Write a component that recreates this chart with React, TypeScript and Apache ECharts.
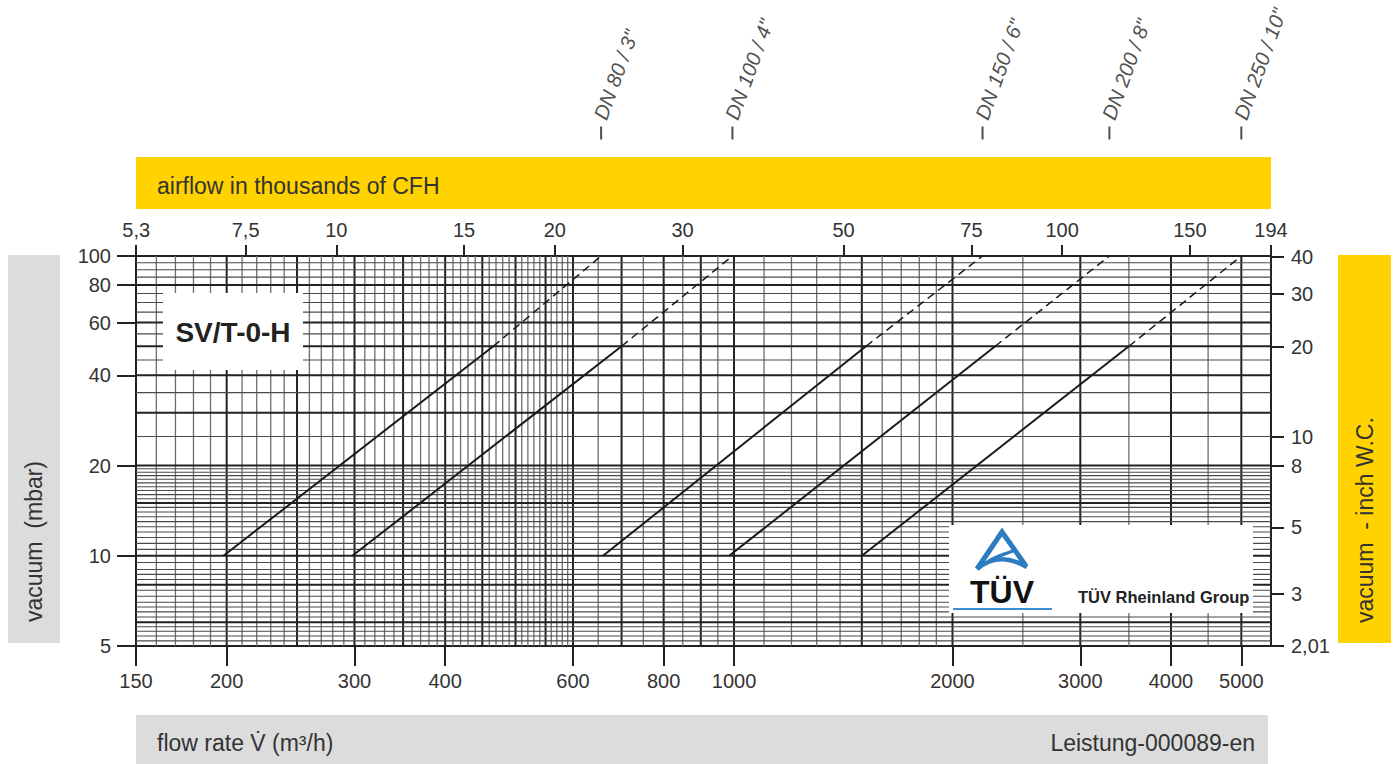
import React, { useEffect, useRef } from 'react';
import * as echarts from 'echarts';

const FONT = '"Liberation Sans", Arial, Helvetica, sans-serif';

// DN curves: flow rate (m³/h) at the given vacuum levels (mbar)
const dnLabels = ['DN 80 / 3"', 'DN 100 / 4"', 'DN 150 / 6"', 'DN 200 / 8"', 'DN 250 / 10"'];
const vacuumLevels = [10, 50, 100];
const flowAt10 = [198, 298, 660, 985, 1500];
const flowAt50 = [466, 700, 1520, 2290, 3500];
const flowAt100 = [656, 995, 2200, 3290, 5000];

// tick labels
const flowTicks = [150, 200, 300, 400, 600, 800, 1000, 2000, 3000, 4000, 5000];
const cfhTicks = [5.3, 7.5, 10, 15, 20, 30, 50, 75, 100, 150, 194];
const mbarTicks = [5, 10, 20, 40, 60, 80, 100];
const inchTicks = [2.01, 3, 5, 8, 10, 20, 30, 40];

// grid lines of the log paper
const vGridMajor = [200, 250, 300, 350, 400, 450, 500, 550, 600, 700, 800, 900, 1000, 1500, 2000, 3000, 4000, 5000];
const vGridMinor = [160, 170, 180, 190, 210, 220, 230, 240, 260, 270, 280, 290, 310, 320, 330, 340, 360, 370, 380, 390,
  410, 420, 430, 440, 460, 470, 480, 490, 510, 520, 530, 540, 560, 570, 580, 590, 650, 750, 850, 950,
  1100, 1200, 1300, 1400, 1600, 1700, 1800, 1900, 2500, 3500, 4500];
const hGridMajor = [80, 60, 50, 40, 30, 20, 15, 10, 8, 6];
const hGridMinor = [95, 90, 85, 75, 70, 65, 55, 45, 35, 25, 19.5, 19, 18.5, 18, 17.5, 17, 16.5, 16, 15.5,
  14.5, 14, 13.5, 13, 12.5, 12, 11.5, 11, 10.5, 9.5, 9, 8.67, 8.33, 7.67, 7.33, 7, 6.75, 6.5, 6.25,
  5.8, 5.6, 5.4, 5.2];

const X_MIN = 150;
const X_MAX = 5493.5;
const Y_MIN = 5;
const Y_MAX = 100;

const fmt = (v: number) => String(Number(Number(v).toPrecision(6))).replace('.', ',');

const lblStyle = { color: '#333', fontSize: 20, fontFamily: FONT };
const axLine = { show: true, lineStyle: { color: '#222', width: 2 } };

function vLines(values: number[], color: string, width: number) {
  return {
    type: 'custom',
    xAxisIndex: 0,
    yAxisIndex: 0,
    silent: true,
    z: 1,
    data: values.map((v) => [v, Y_MIN]),
    renderItem: (_p: any, api: any) => {
      const a = api.coord([api.value(0), Y_MIN]);
      const b = api.coord([api.value(0), Y_MAX]);
      return { type: 'line', shape: { x1: a[0], y1: a[1], x2: b[0], y2: b[1] }, style: { stroke: color, lineWidth: width } };
    },
  };
}

function hLines(values: number[], color: string, width: number) {
  return {
    type: 'custom',
    xAxisIndex: 0,
    yAxisIndex: 0,
    silent: true,
    z: 1,
    data: values.map((v) => [X_MIN, v]),
    renderItem: (_p: any, api: any) => {
      const a = api.coord([X_MIN, api.value(1)]);
      const b = api.coord([X_MAX, api.value(1)]);
      return { type: 'line', shape: { x1: a[0], y1: a[1], x2: b[0], y2: b[1] }, style: { stroke: color, lineWidth: width } };
    },
  };
}

export default function App() {
  const ref = useRef<HTMLDivElement>(null);

  useEffect(() => {
    if (!ref.current) return;
    const chart = echarts.init(ref.current, undefined, { renderer: 'svg' });

    const curveSeries: any[] = [];
    dnLabels.forEach((name, i) => {
      curveSeries.push({
        type: 'line', name, xAxisIndex: 0, yAxisIndex: 0, symbol: 'none', z: 3, silent: true,
        data: [[flowAt10[i], vacuumLevels[0]], [flowAt50[i], vacuumLevels[1]]],
        lineStyle: { color: '#1a1a1a', width: 2 },
      });
      curveSeries.push({
        type: 'line', name: name + ' dashed', xAxisIndex: 0, yAxisIndex: 0, symbol: 'none', z: 3, silent: true,
        data: [[flowAt50[i], vacuumLevels[1]], [flowAt100[i], vacuumLevels[2]]],
        lineStyle: { color: '#1a1a1a', width: 1.5, type: [8, 5] },
      });
    });

    const blue = '#2b7cc1';

    chart.setOption({
      animation: false,
      backgroundColor: '#fff',
      grid: [
        { left: 136, top: 256, width: 1135, height: 390 },
        { left: 136, top: 0, width: 1135, height: 150 },
      ],
      xAxis: [
        {
          type: 'log', logBase: 10, gridIndex: 0, min: X_MIN, max: X_MAX, position: 'bottom',
          axisLine: axLine,
          axisTick: { show: true, customValues: flowTicks, length: 20, lineStyle: { color: '#222', width: 2 } },
          axisLabel: { show: true, customValues: flowTicks, margin: 25, formatter: fmt, ...lblStyle },
          splitLine: { show: false }, minorTick: { show: false }, minorSplitLine: { show: false },
        },
        {
          type: 'log', logBase: 10, gridIndex: 0, min: 5.297, max: 194.001, position: 'top',
          axisLine: axLine,
          axisTick: { show: true, customValues: cfhTicks, length: 11, lineStyle: { color: '#222', width: 2 } },
          axisLabel: { show: true, customValues: cfhTicks, margin: 16, formatter: fmt, ...lblStyle },
          splitLine: { show: false }, minorTick: { show: false }, minorSplitLine: { show: false },
        },
        { type: 'log', logBase: 10, gridIndex: 1, min: X_MIN, max: X_MAX, show: false },
      ],
      yAxis: [
        {
          type: 'log', logBase: 10, gridIndex: 0, min: Y_MIN, max: Y_MAX, position: 'left',
          axisLine: axLine,
          axisTick: { show: true, customValues: mbarTicks, length: 19, lineStyle: { color: '#222', width: 2 } },
          axisLabel: { show: true, customValues: mbarTicks, margin: 25, formatter: fmt, ...lblStyle },
          splitLine: { show: false }, minorTick: { show: false }, minorSplitLine: { show: false },
        },
        {
          type: 'log', logBase: 10, gridIndex: 0, min: 2.0095, max: 40.19, position: 'right',
          axisLine: axLine,
          axisTick: { show: true, customValues: inchTicks, length: 13, lineStyle: { color: '#222', width: 2 } },
          axisLabel: { show: true, customValues: inchTicks, margin: 20, formatter: fmt, ...lblStyle },
          splitLine: { show: false }, minorTick: { show: false }, minorSplitLine: { show: false },
        },
        { type: 'value', gridIndex: 1, min: 0, max: 150, inverse: true, show: false },
      ],
      series: [
        vLines(vGridMinor, '#6e6e6e', 1.3),
        vLines(vGridMajor, '#222', 2),
        hLines(hGridMinor, '#4a4a4a', 1.1),
        hLines(hGridMajor, '#222', 2),
        ...curveSeries,
        {
          type: 'scatter', xAxisIndex: 2, yAxisIndex: 2, silent: true,
          data: flowAt100.map((f) => [f, 133]),
          symbol: 'rect', symbolSize: [2, 13], itemStyle: { color: '#222' },
        },
        {
          type: 'scatter', xAxisIndex: 2, yAxisIndex: 2, silent: true,
          data: flowAt100.map((f, i) => ({ value: [f, 115], name: dnLabels[i] })),
          symbolSize: 1, itemStyle: { color: 'rgba(0,0,0,0)' },
          label: {
            show: true, formatter: '{b}', position: 'inside', offset: [-4, 0], rotate: 70,
            align: 'left', verticalAlign: 'middle', fontSize: 20.5, fontStyle: 'italic',
            color: '#222', fontFamily: FONT,
          },
        },
      ],
      graphic: [
        { type: 'rect', z: 100, shape: { x: 136, y: 157, width: 1135, height: 52 }, style: { fill: '#FFD200' } },
        { type: 'text', z: 101, x: 157, y: 186, style: { text: 'airflow in thousands of CFH', fontSize: 23, fontFamily: FONT, fill: '#333', align: 'left', verticalAlign: 'middle' } },
        { type: 'rect', z: 100, shape: { x: 8, y: 255, width: 52, height: 388 }, style: { fill: '#DCDCDC' } },
        { type: 'text', z: 101, x: 34, y: 622, rotation: Math.PI / 2, style: { text: 'vacuum  (mbar)', fontSize: 23, fontFamily: FONT, fill: '#333', align: 'left', verticalAlign: 'middle' } },
        { type: 'rect', z: 100, shape: { x: 1338, y: 255, width: 53, height: 388 }, style: { fill: '#FFD200' } },
        { type: 'text', z: 101, x: 1365, y: 623, rotation: Math.PI / 2, style: { text: 'vacuum  - inch W.C.', fontSize: 23, fontFamily: FONT, fill: '#333', align: 'left', verticalAlign: 'middle' } },
        { type: 'rect', z: 100, shape: { x: 136, y: 715, width: 1132, height: 49 }, style: { fill: '#DCDCDC' } },
        { type: 'text', z: 101, x: 157, y: 743, style: { text: 'flow rate V\u0307 (m³/h)', fontSize: 23, fontFamily: FONT, fill: '#333', align: 'left', verticalAlign: 'middle' } },
        { type: 'text', z: 101, x: 1255, y: 743, style: { text: 'Leistung-000089-en', fontSize: 23, fontFamily: FONT, fill: '#333', align: 'right', verticalAlign: 'middle' } },
        { type: 'rect', z: 100, shape: { x: 163, y: 293, width: 140, height: 77 }, style: { fill: '#fff' } },
        { type: 'text', z: 101, x: 233, y: 332, style: { text: 'SV/T-0-H', fontSize: 28, fontWeight: 'bold', fontFamily: FONT, fill: '#222', align: 'center', verticalAlign: 'middle' } },
        { type: 'rect', z: 100, shape: { x: 949, y: 525, width: 304, height: 88 }, style: { fill: '#fff' } },
        { type: 'polyline', z: 101, shape: { points: [[977, 569], [1002, 532], [1026, 566]] }, style: { stroke: blue, lineWidth: 5, fill: 'none', lineJoin: 'miter' } },
        { type: 'bezierCurve', z: 101, shape: { x1: 977, y1: 569, cpx1: 992, cpy1: 556, cpx2: 1010, cpy2: 557, x2: 1027, y2: 567 }, style: { stroke: blue, lineWidth: 4.5, fill: 'none' } },
        { type: 'bezierCurve', z: 101, shape: { x1: 1015, y1: 550, cpx1: 1006, cpy1: 554, cpx2: 996, cpy2: 556, x2: 989, y2: 561 }, style: { stroke: blue, lineWidth: 3.5, fill: 'none' } },
        { type: 'text', z: 101, x: 1002, y: 592, style: { text: 'TÜV', fontSize: 32, fontWeight: 'bold', fontFamily: FONT, fill: '#111', align: 'center', verticalAlign: 'middle' } },
        { type: 'line', z: 101, shape: { x1: 953, y1: 609, x2: 1052, y2: 609 }, style: { stroke: '#3d8fd1', lineWidth: 2 } },
        { type: 'text', z: 101, x: 1078, y: 597, style: { text: 'TÜV Rheinland Group', fontSize: 16.5, fontWeight: 'bold', fontFamily: FONT, fill: '#222', align: 'left', verticalAlign: 'middle' } },
      ],
    } as any);

    return () => chart.dispose();
  }, []);

  return <div ref={ref} style={{ position: 'absolute', left: 0, top: 0, width: 1393, height: 764, background: '#fff' }} />;
}
